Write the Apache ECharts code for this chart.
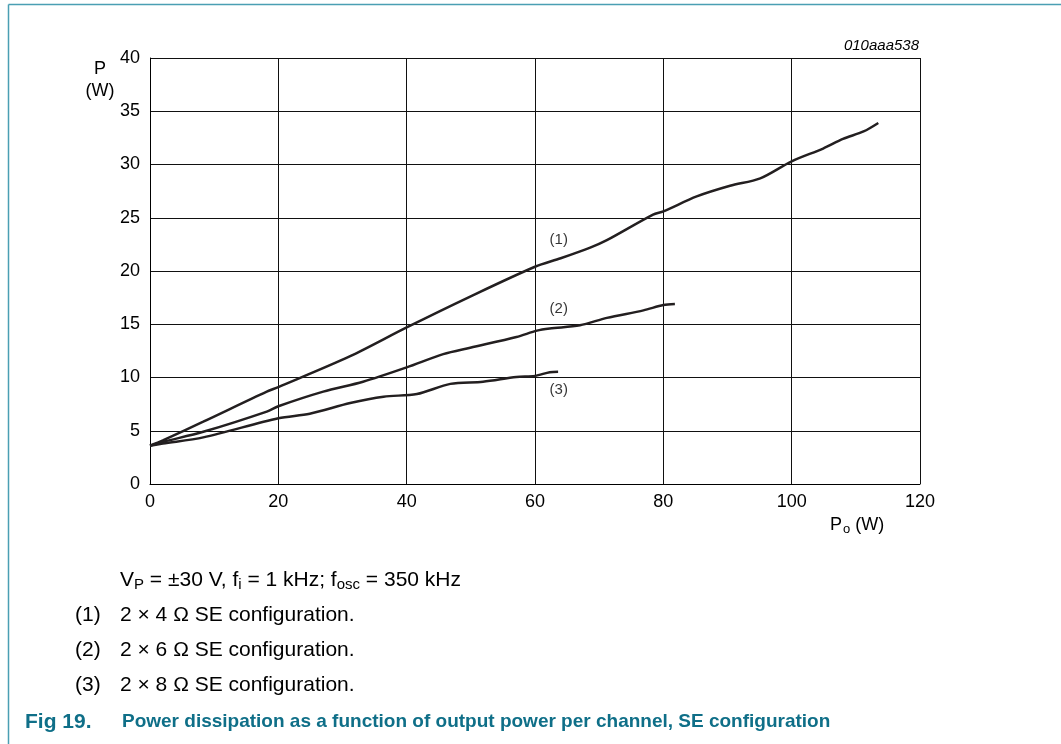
<!DOCTYPE html>
<html>
<head>
<meta charset="utf-8">
<script src="https://cdn.jsdelivr.net/npm/echarts@6/dist/echarts.min.js"></script>
<style>
html,body{margin:0;padding:0;background:#fff;}
#chart{width:1061px;height:744px;}
</style>
</head>
<body>
<div id="chart"></div>
<script>
// Curve (1): 2 x 4 ohm SE
const curve1 = [[0,3.6],[2,4.1],[8.3,5.85],[18.2,8.67],[20,9.1],[31.2,12.0],[40,14.7],[49.9,17.6],[60,20.4],[64,21.2],[68.6,22.2],[71.2,22.9],[78.4,25.3],[80,25.6],[85.2,27.0],[90.4,28.0],[95.1,28.7],[100,30.3],[104.9,31.5],[108,32.4],[111.2,33.1],[113.5,33.9]];
// Curve (2): 2 x 6 ohm SE
const curve2 = [[0,3.6],[2,3.95],[8.3,4.9],[18.2,6.8],[20,7.3],[27,8.67],[33.2,9.6],[40,10.95],[45.7,12.2],[49.9,12.8],[57.1,13.8],[60.3,14.4],[62.3,14.6],[67,14.9],[71.2,15.6],[76.9,16.3],[80,16.8],[81.8,16.9]];
// Curve (3): 2 x 8 ohm SE
const curve3 = [[0,3.6],[2,3.8],[8.3,4.38],[20,6.17],[24.9,6.6],[31.2,7.6],[36.4,8.2],[41.6,8.45],[46.8,9.4],[51.9,9.6],[57.1,10.05],[60,10.15],[62.3,10.5],[63.6,10.55]];
const xTicks = [0,20,40,60,80,100,120];
const yTicks = [0,5,10,15,20,25,30,35,40];
const curveLabels = ['(1)','(2)','(3)'];
const labelPos = [[63.7,22.9],[63.7,16.4],[63.7,8.87]];

const chart = echarts.init(document.getElementById('chart'));
const font = '"Liberation Sans", Arial, sans-serif';
const lineStyle = {color:'#231f20', width:2.5};
function ser(d){
  return {type:'line', data:d, showSymbol:false, smooth:0.3, lineStyle:lineStyle, z:5, silent:true};
}
function txt(x, y, s, f, color, align){
  return {type:'text', x:x, y:y, style:{text:s, font:f, fill:color||'#000', align:align||'left', verticalAlign:'middle'}};
}
const noteFont = '21px ' + font;
chart.setOption({
  animation:false,
  grid:{left:150, right:141, top:58, bottom:260},
  xAxis:{
    type:'value', min:xTicks[0], max:xTicks[xTicks.length-1], interval:20,
    axisLine:{show:true, lineStyle:{color:'#000', width:1}},
    axisTick:{show:false},
    splitLine:{show:true, lineStyle:{color:'#111', width:1}},
    axisLabel:{color:'#000', fontSize:18, fontFamily:font, margin:9}
  },
  yAxis:{
    type:'value', min:yTicks[0], max:yTicks[yTicks.length-1], interval:5,
    axisLine:{show:true, lineStyle:{color:'#000', width:1}},
    axisTick:{show:false},
    splitLine:{show:true, lineStyle:{color:'#111', width:1}},
    axisLabel:{color:'#000', fontSize:18, fontFamily:font, margin:10}
  },
  series:[ser(curve1), ser(curve2), ser(curve3),
    {type:'scatter', data:labelPos, symbolSize:0, silent:true,
     label:{show:true, position:'inside', color:'#000', fontSize:15, fontFamily:font,
       formatter:p=>curveLabels[p.dataIndex]}}],
  graphic:[
    {type:'line', shape:{x1:8.5,y1:4.5,x2:1061,y2:4.5}, style:{stroke:'#4a9fb3', lineWidth:1.5}},
    {type:'line', shape:{x1:8.5,y1:4.5,x2:8.5,y2:744}, style:{stroke:'#4a9fb3', lineWidth:1.5}},
    txt(100, 69, 'P', '18px '+font, '#000', 'center'),
    txt(100, 91, '(W)', '18px '+font, '#000', 'center'),
    txt(919, 46, '010aaa538', 'italic 15px '+font, '#000', 'right'),
    {type:'text', x:830, y:525, style:{
      text:'{a|P}{s|o}{a| (W)}', verticalAlign:'middle',
      rich:{a:{fontSize:18, fontFamily:font, color:'#000'}, s:{fontSize:13, fontFamily:font, color:'#000', padding:[9,0,0,1]}}
    }},
    {type:'text', x:120, y:580, style:{
      text:'{a|V}{s|P}{a| = ±30 V, f}{s|i}{a| = 1 kHz; f}{s|osc}{a| = 350 kHz}', verticalAlign:'middle',
      rich:{a:{fontSize:21, fontFamily:font, color:'#000'}, s:{fontSize:15, fontFamily:font, color:'#000', padding:[10,0,0,0]}}
    }},
    txt(75, 615, '(1)', noteFont),
    txt(120, 615, '2 × 4 Ω SE configuration.', noteFont),
    txt(75, 650, '(2)', noteFont),
    txt(120, 650, '2 × 6 Ω SE configuration.', noteFont),
    txt(75, 685, '(3)', noteFont),
    txt(120, 685, '2 × 8 Ω SE configuration.', noteFont),
    txt(25, 722, 'Fig 19.', 'bold 21px '+font, '#0f6f88'),
    txt(122, 722, 'Power dissipation as a function of output power per channel, SE configuration', 'bold 19px '+font, '#0f6f88')
  ]
});
</script>
</body>
</html>
